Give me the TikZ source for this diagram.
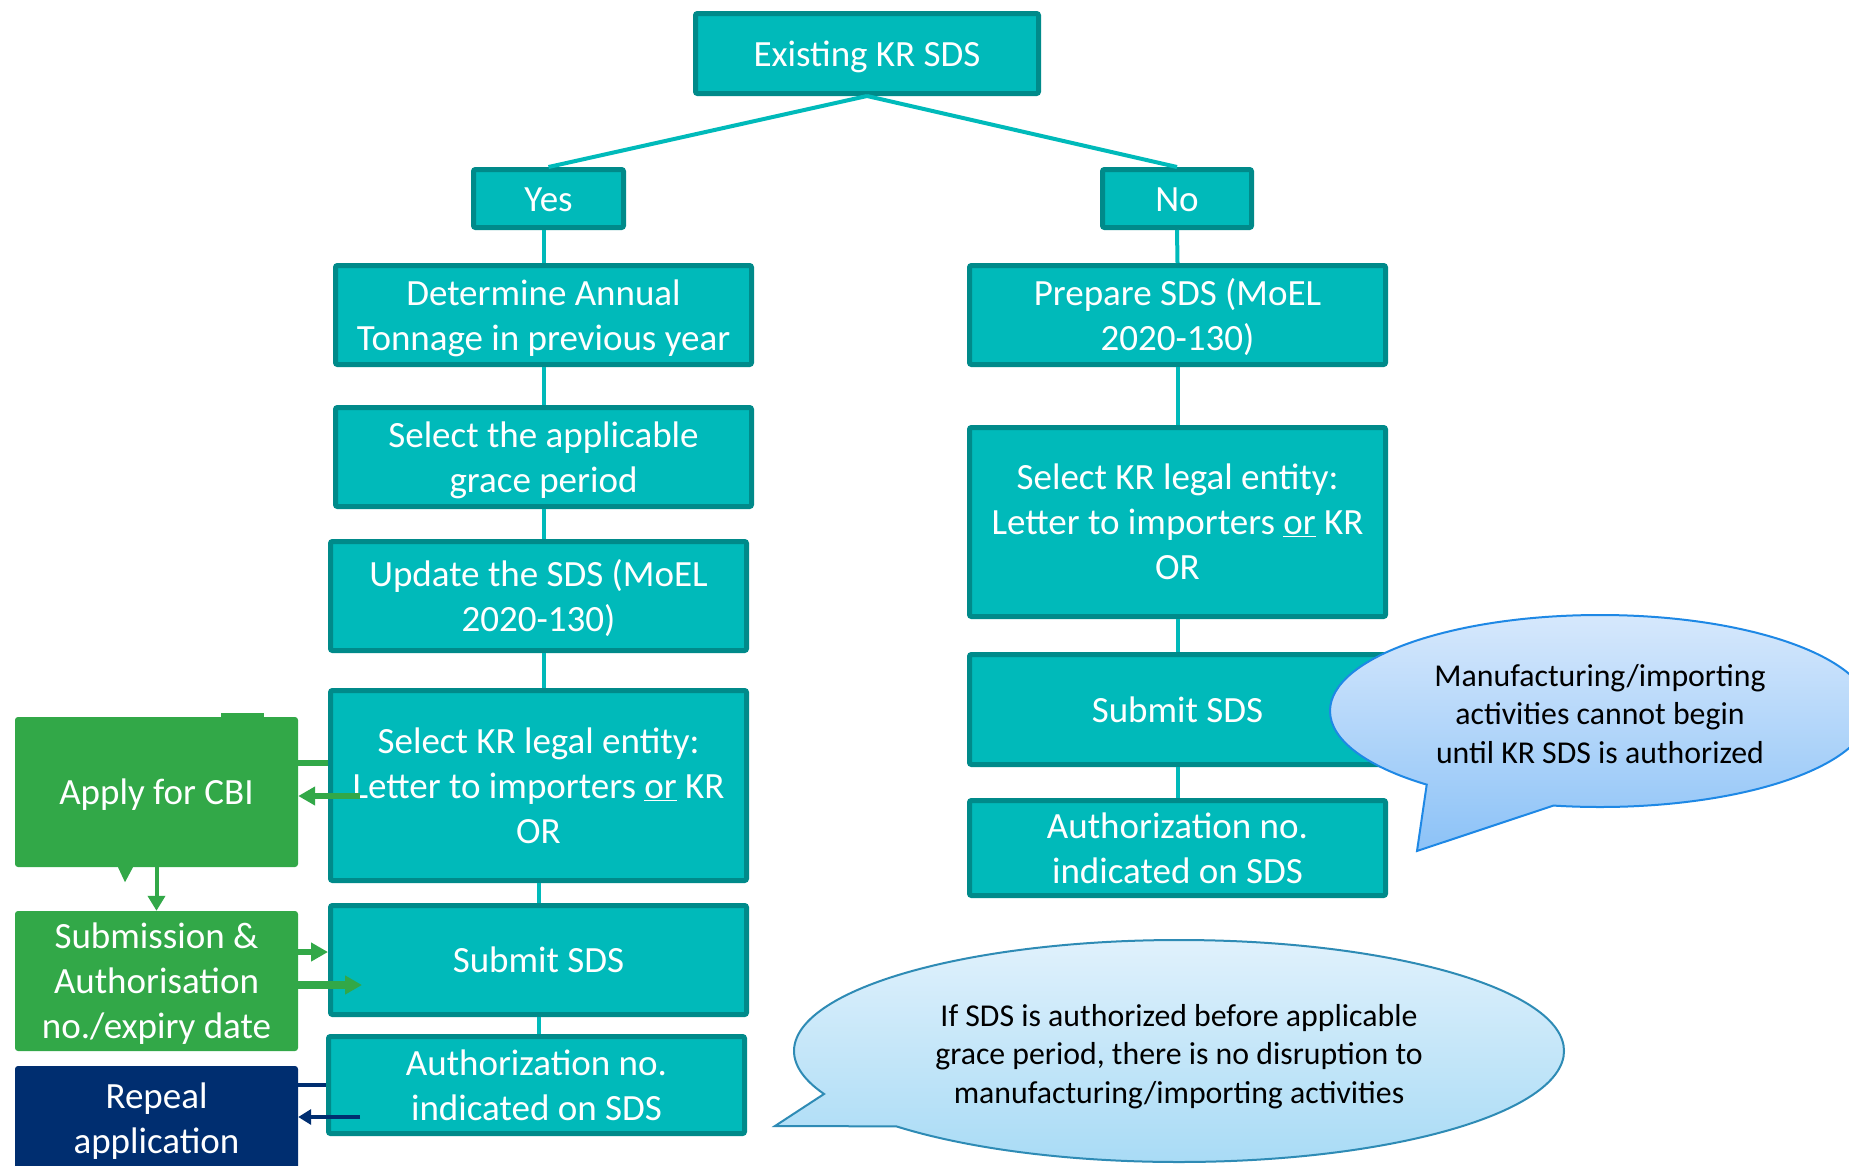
\documentclass[tikz,border=0pt]{standalone}
\usepackage{fontspec}
\setmainfont{Carlito}
\usetikzlibrary{shapes.callouts,arrows.meta}
\definecolor{tealfill}{RGB}{0,186,186}
\definecolor{tealedge}{RGB}{0,138,138}
\definecolor{cbigreen}{RGB}{50,168,72}
\definecolor{navyblue}{RGB}{0,46,112}
\definecolor{notetopA}{RGB}{214,232,252}
\definecolor{notebotA}{RGB}{140,194,247}
\definecolor{noteedgeA}{RGB}{30,136,229}
\definecolor{notetopB}{RGB}{224,241,252}
\definecolor{notebotB}{RGB}{166,218,245}
\definecolor{noteedgeB}{RGB}{46,139,181}

\begin{document}
\begin{tikzpicture}[x=1pt,y=-1pt,
  boxtext/.style={text=white,align=center,inner sep=0pt,
    font=\fontsize{37}{45}\selectfont,text height=35.2pt,text depth=10pt},
  twolines/.style={text height=80.2pt},
  threelines/.style={text height=125.2pt},
  tealbox/.style={boxtext,draw=tealedge,fill=tealfill,line width=5pt,rounded corners=2pt},
  greenbox/.style={boxtext,fill=cbigreen,rounded corners=3pt},
  navybox/.style={greenbox,fill=navyblue},
  link/.style={draw=tealfill,line width=4pt},
  greenline/.style={draw=cbigreen,line width=6pt},
  greenarrow/.style={greenline,-{Triangle[length=17pt,width=18pt]}},
  navyline/.style={draw=navyblue,line width=4pt},
  navyarrow/.style={navyline,-{Triangle[length=13pt,width=15pt]}},
  note/.style={ellipse callout,inner sep=0pt,align=center,text=black,
    font=\fontsize{31.8}{38.5}\selectfont,text height=112.8pt,text depth=8pt}
]
\fill[white] (0,0) rectangle (1849,1165);
\useasboundingbox (0,0) rectangle (1849,1165);

\node[tealbox,minimum width=343pt,minimum height=80pt] (top) at (867,53.5) {Existing KR SDS};
\node[tealbox,minimum width=150pt,minimum height=58pt] (yes) at (548.5,198.5) {Yes};
\node[tealbox,minimum width=149pt,minimum height=58pt] (no) at (1177,198.5) {No};

\node[tealbox,twolines,minimum width=416pt,minimum height=99pt] (det) at (543.5,315) {Determine Annual\\Tonnage in previous year};
\node[tealbox,twolines,minimum width=416pt,minimum height=99pt] (grace) at (543.5,457) {Select the applicable\\grace period};
\node[tealbox,twolines,minimum width=416pt,minimum height=109pt] (upd) at (538.5,596) {Update the SDS (MoEL\\2020-130)};
\node[tealbox,threelines,minimum width=416pt,minimum height=190pt] (selL) at (538.5,785.5) {Select KR legal entity:\\Letter to importers \underline{or} KR\\OR};
\node[tealbox,minimum width=416pt,minimum height=109pt] (subL) at (538.5,960) {Submit SDS};
\node[tealbox,twolines,minimum width=416pt,minimum height=97pt] (authL) at (536.5,1085) {Authorization no.\\indicated on SDS};

\node[tealbox,twolines,minimum width=416pt,minimum height=99pt] (prep) at (1177.5,315) {Prepare SDS (MoEL\\2020-130)};
\node[tealbox,threelines,minimum width=416pt,minimum height=189pt] (selR) at (1177.5,522) {Select KR legal entity:\\Letter to importers \underline{or} KR\\OR};
\node[tealbox,minimum width=416pt,minimum height=110pt] (subR) at (1177.5,709.5) {Submit SDS};
\node[tealbox,twolines,minimum width=416pt,minimum height=95pt] (authR) at (1177.5,848) {Authorization no.\\indicated on SDS};

\node[greenbox,minimum width=283pt,minimum height=150pt] (cbi) at (156.5,792) {Apply for CBI};
\node[greenbox,threelines,minimum width=283pt,minimum height=140pt] (subm) at (156.5,981) {Submission \&\\Authorisation\\no./expiry date};
\node[navybox,twolines,minimum width=283pt,minimum height=104pt] (repeal) at (156.5,1118) {Repeal\\application};
\fill[cbigreen] ([xshift=-38.5pt]cbi.south) -- ++(15,0) -- ++(-8,15) -- cycle;
\fill[cbigreen] ([xshift=64.5pt]cbi.north) rectangle ++(43,-4);

\draw[link] (top.south) -- (yes.north);
\draw[link] (top.south) -- (no.north);
\draw[link] (det.north) -- (det.north |- yes.south);
\draw[link] (det.south) -- (grace.north);
\draw[link] (grace.south) -- (grace.south |- upd.north);
\draw[link] (upd.south -| grace.south) -- (selL.north -| grace.south);
\draw[link] (selL.south) -- (subL.north);
\draw[link] (subL.south) -- (subL.south |- authL.north);
\draw[link] (no.south) -- (prep.north);
\draw[link] (prep.south) -- (selR.north);
\draw[link] (selR.south) -- (subR.north);
\draw[link] (subR.south) -- (authR.north);

\draw[greenline] ([yshift=22.5pt]selL.west) -- ([yshift=22.5pt]selL.west -| cbi.east);
\draw[greenarrow] ([xshift=32pt,yshift=-10.5pt]selL.west) -- ([yshift=-10.5pt]selL.west -| cbi.east);
\draw[greenline,line width=4pt,-{Triangle[length=15pt,width=17pt]}] (cbi.south) -- (subm.north);
\draw[greenarrow] ([yshift=29pt]subm.east) -- ([yshift=29pt]subm.east -| subL.west);
\draw[greenarrow,line width=8pt] ([yshift=-4pt]subm.east) -- ([yshift=-4pt,xshift=34pt]subm.east -| subL.west);
\draw[navyline] (authL.west) -- (authL.west -| repeal.east);
\draw[navyarrow] ([xshift=34pt,yshift=-32pt]authL.west) -- ([yshift=-32pt]authL.west -| repeal.east);

\node[note,draw=noteedgeA,line width=2pt,top color=notetopA,bottom color=notebotA,
  minimum width=540pt,minimum height=192pt,callout pointer arc=30,
  callout absolute pointer={(1417,851)}] (warn) at (1600,711)
  {Manufacturing/importing\\activities cannot begin\\until KR SDS is authorized};
\node[note,draw=noteedgeB,line width=2pt,top color=notetopB,bottom color=notebotB,
  minimum width=770pt,minimum height=222pt,callout pointer arc=20,
  callout absolute pointer={(775,1126)}] (grace note) at (1179,1051)
  {If SDS is authorized before applicable\\grace period, there is no disruption to\\manufacturing/importing activities};
\end{tikzpicture}
\end{document}
